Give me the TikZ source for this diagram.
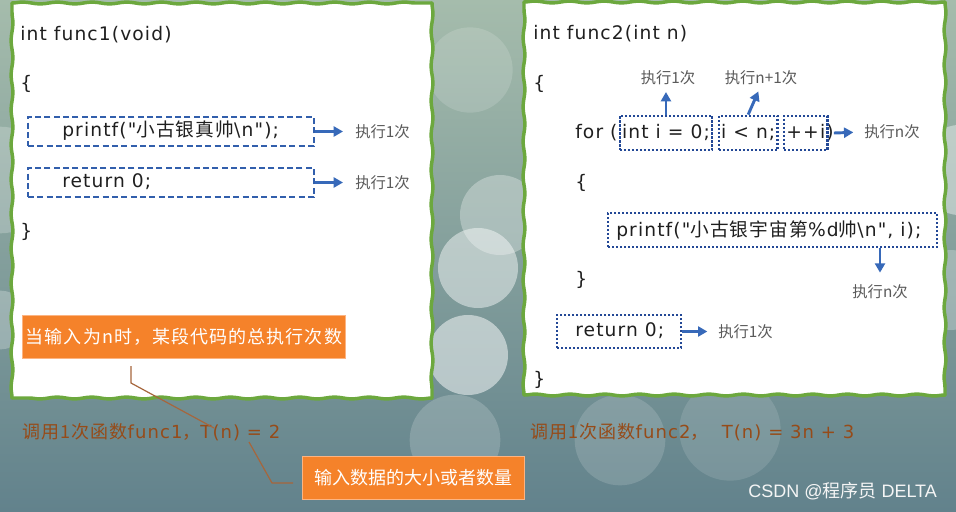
\documentclass[tikz,border=0pt]{standalone}
\usepackage{fontspec}
\setmainfont{DejaVu Sans}
\newfontfamily\codefont[LetterSpace=6]{DejaVu Sans}
\newfontfamily\cjkfont[LetterSpace=6]{Noto Sans CJK SC}
\newfontfamily\labfont{Noto Sans CJK SC}
\newfontfamily\wmfont{Liberation Sans}
\usetikzlibrary{arrows.meta,decorations.pathmorphing,fit}
\newcommand{\zhtxt}[1]{{\cjkfont #1}}
\definecolor{panelgreen}{RGB}{108,168,62}
\definecolor{boxblue}{RGB}{50,95,172}
\definecolor{dotblue}{RGB}{35,72,150}
\definecolor{arrblue}{RGB}{55,105,185}
\definecolor{labgray}{RGB}{90,90,90}
\definecolor{orangef}{RGB}{245,130,42}
\definecolor{orangeb}{RGB}{252,180,130}
\definecolor{tbrown}{RGB}{150,75,25}
\definecolor{bgtop}{RGB}{165,188,172}
\definecolor{bgbot}{RGB}{98,130,140}
\begin{document}
\begin{tikzpicture}[x=0.75pt,y=-0.75pt,
  wavy/.style={draw=panelgreen, line width=2.6pt, line cap=round, decorate,
    decoration={snake, segment length=26pt, amplitude=0.7pt}},
  code/.style={font=\codefont\fontsize{14}{17}\selectfont, text=black!88, anchor=west,
    inner sep=0pt, text height=11pt, text depth=3.5pt},
  lab/.style={font=\labfont\fontsize{11.5}{13}\selectfont, text=labgray, inner sep=0pt},
  dbox/.style={draw=boxblue, line width=1.6pt, dash pattern=on 4.5pt off 2.5pt, inner sep=0pt},
  dotbox/.style={draw=dotblue, line width=1.7pt, dash pattern=on 1.7pt off 1.3pt, inner sep=0pt},
  arr/.style={draw=arrblue, line width=2.2pt, -{Triangle[length=7pt,width=7.5pt]}},
  obox/.style={fill=orangef, draw=orangeb, line width=0.6pt, text=white,
    minimum height=32.25pt, inner sep=0pt},
  btext/.style={font=\codefont\fontsize{13.5}{16}\selectfont, text=tbrown, anchor=west, inner sep=0pt},
  bline/.style={draw=tbrown!85, line width=0.9pt}
]
\useasboundingbox (0,0) rectangle (956,511);
% background
\shade[top color=bgtop, bottom color=bgbot] (0,0) rectangle (956,511);
\fill[white, opacity=0.15] (470,70) circle[radius=32pt];
\fill[white, opacity=0.3] (500,215) circle[radius=30pt];
\fill[white, opacity=0.45] (478,268) circle[radius=30pt];
\fill[white, opacity=0.5] (468,355) circle[radius=30pt];
\fill[white, opacity=0.18] (455,440) circle[radius=34pt];
\fill[white, opacity=0.4] (962,170) circle[radius=34pt];
\fill[white, opacity=0.25] (950,290) circle[radius=30pt];
\fill[white, opacity=0.15] (620,440) circle[radius=34pt];
\fill[white, opacity=0.12] (730,430) circle[radius=38pt];
\fill[white, opacity=0.22] (0,180) circle[radius=40pt];
\fill[white, opacity=0.25] (0,320) circle[radius=22pt];
% panels
\fill[white] (12,3) rectangle (432,398);
\path[wavy] (12,3) -- (432,3);
\path[wavy] (432,3) -- (432,398);
\path[wavy] (432,398) -- (12,398);
\path[wavy] (12,398) -- (12,3);
\fill[white] (524,2) rectangle (945,395);
\path[wavy] (524,2) -- (945,2);
\path[wavy] (945,2) -- (945,395);
\path[wavy] (945,395) -- (524,395);
\path[wavy] (524,395) -- (524,2);

% ---------- left panel ----------
\node[code] (l1) at (20,35) {int func1(void)};
\node[code] (l2) at (20,84) {\{};
\node[dbox, fit={(28,117) (314,146)}] (lb1) {};
\node[code] (l3) at (62,131.5) {printf("\zhtxt{小古银真帅}\textbackslash n");};
\node[lab, anchor=west] (ll1) at (355,131.5) {执行1次};
\draw[arr, shorten >=9pt] (lb1.east) -- (ll1.west);
\node[dbox, fit={(28,168) (314,197)}] (lb2) {};
\node[code] (l4) at (62,182.5) {return 0;};
\node[lab, anchor=west] (ll2) at (355,182.5) {执行1次};
\draw[arr, shorten >=9pt] (lb2.east) -- (ll2.west);
\node[code] (l5) at (20,232) {\}};

\node[obox, minimum width=242.25pt, anchor=north west,
  font=\cjkfont\fontsize{13.5}{16}\selectfont] (ob1) at (22,315) {当输入为n时，某段代码的总执行次数};
\node[btext] (t1) at (22,432) {\zhtxt{调用1次函数}func1\zhtxt{，}T(n) = 2};
\coordinate (p1) at (131,366);
\coordinate (p2) at (131,383);
\coordinate (p3) at (214,428);
\draw[bline] (p1) -- (p2) -- (p3);
\node[obox, minimum width=166.5pt, anchor=north west,
  font=\labfont\fontsize{13.5}{16}\selectfont] (ob2) at (302,456) {输入数据的大小或者数量};
\coordinate (q1) at (249,442);
\coordinate (q2) at (272,483);
\coordinate (q3) at (293,483);
\draw[bline] (q1) -- (q2) -- (q3);

% ---------- right panel ----------
\node[code] (r1) at (533,34) {int func2(int n)};
\node[code] (r2) at (533,84) {\{};
\node[code] (f0) at (575,133) {for (};
\node[code] (f1) at ([xshift=3pt]f0.east) {int i = 0;};
\node[code] (f2) at ([xshift=8pt]f1.east) {i < n;};
\node[code] (f3) at ([xshift=8pt]f2.east) {++i};
\node[code] (f4) at ([xshift=0.5pt]f3.east) {)};
\node[dotbox, fit=(f1), inner xsep=1.5pt, inner ysep=5.5pt] (fb1) {};
\node[dotbox, fit=(f2), inner xsep=1.5pt, inner ysep=5.5pt] (fb2) {};
\node[dotbox, fit=(f3), inner xsep=1.5pt, inner ysep=5.5pt] (fb3) {};
\node[lab] (rl1) at (668,78) {执行1次};
\node[lab] (rl2) at (761,78) {执行n+1次};
\node[lab, anchor=west] (rl3) at (864,132) {执行n次};
\draw[arr, shorten >=5pt] (fb1.north) -- (fb1.north |- rl1.south);
\draw[arr, shorten >=5pt] (fb2.north) -- (rl2.south);
\draw[arr, shorten >=8pt] (f4.east) -- (rl3.west);
\node[code] (r4) at (575,183) {\{};
\node[dotbox, fit={(608,213) (937,247)}] (pb) {};
\node[code] (r5) at (616,231) {printf("\zhtxt{小古银宇宙第}\%d\zhtxt{帅}\textbackslash n", i);};
\node[lab] (rl4) at (880,292) {执行n次};
\draw[arr, shorten >=9pt] (pb.south -| rl4.north) -- (rl4.north);
\node[code] (r6) at (575,280) {\}};
\node[dotbox, fit={(557,315) (681,348)}] (rb) {};
\node[code] (r7) at (575,331.5) {return 0;};
\node[lab, anchor=west] (rl5) at (718,331.5) {执行1次};
\draw[arr, shorten >=8pt] (rb.east) -- (rl5.west);
\node[code] (r8) at (533,380) {\}};

\node[btext] (t2) at (530,432) {\zhtxt{调用1次函数}func2\zhtxt{，}\hspace{10pt}T(n) = 3n + 3};

% watermark
\node[anchor=west, inner sep=0pt, text=white!92!gray, font=\wmfont\fontsize{13.5}{16}\selectfont]
  (wm) at (748,491) {CSDN @{\labfont 程序员} DELTA};
\end{tikzpicture}
\end{document}
